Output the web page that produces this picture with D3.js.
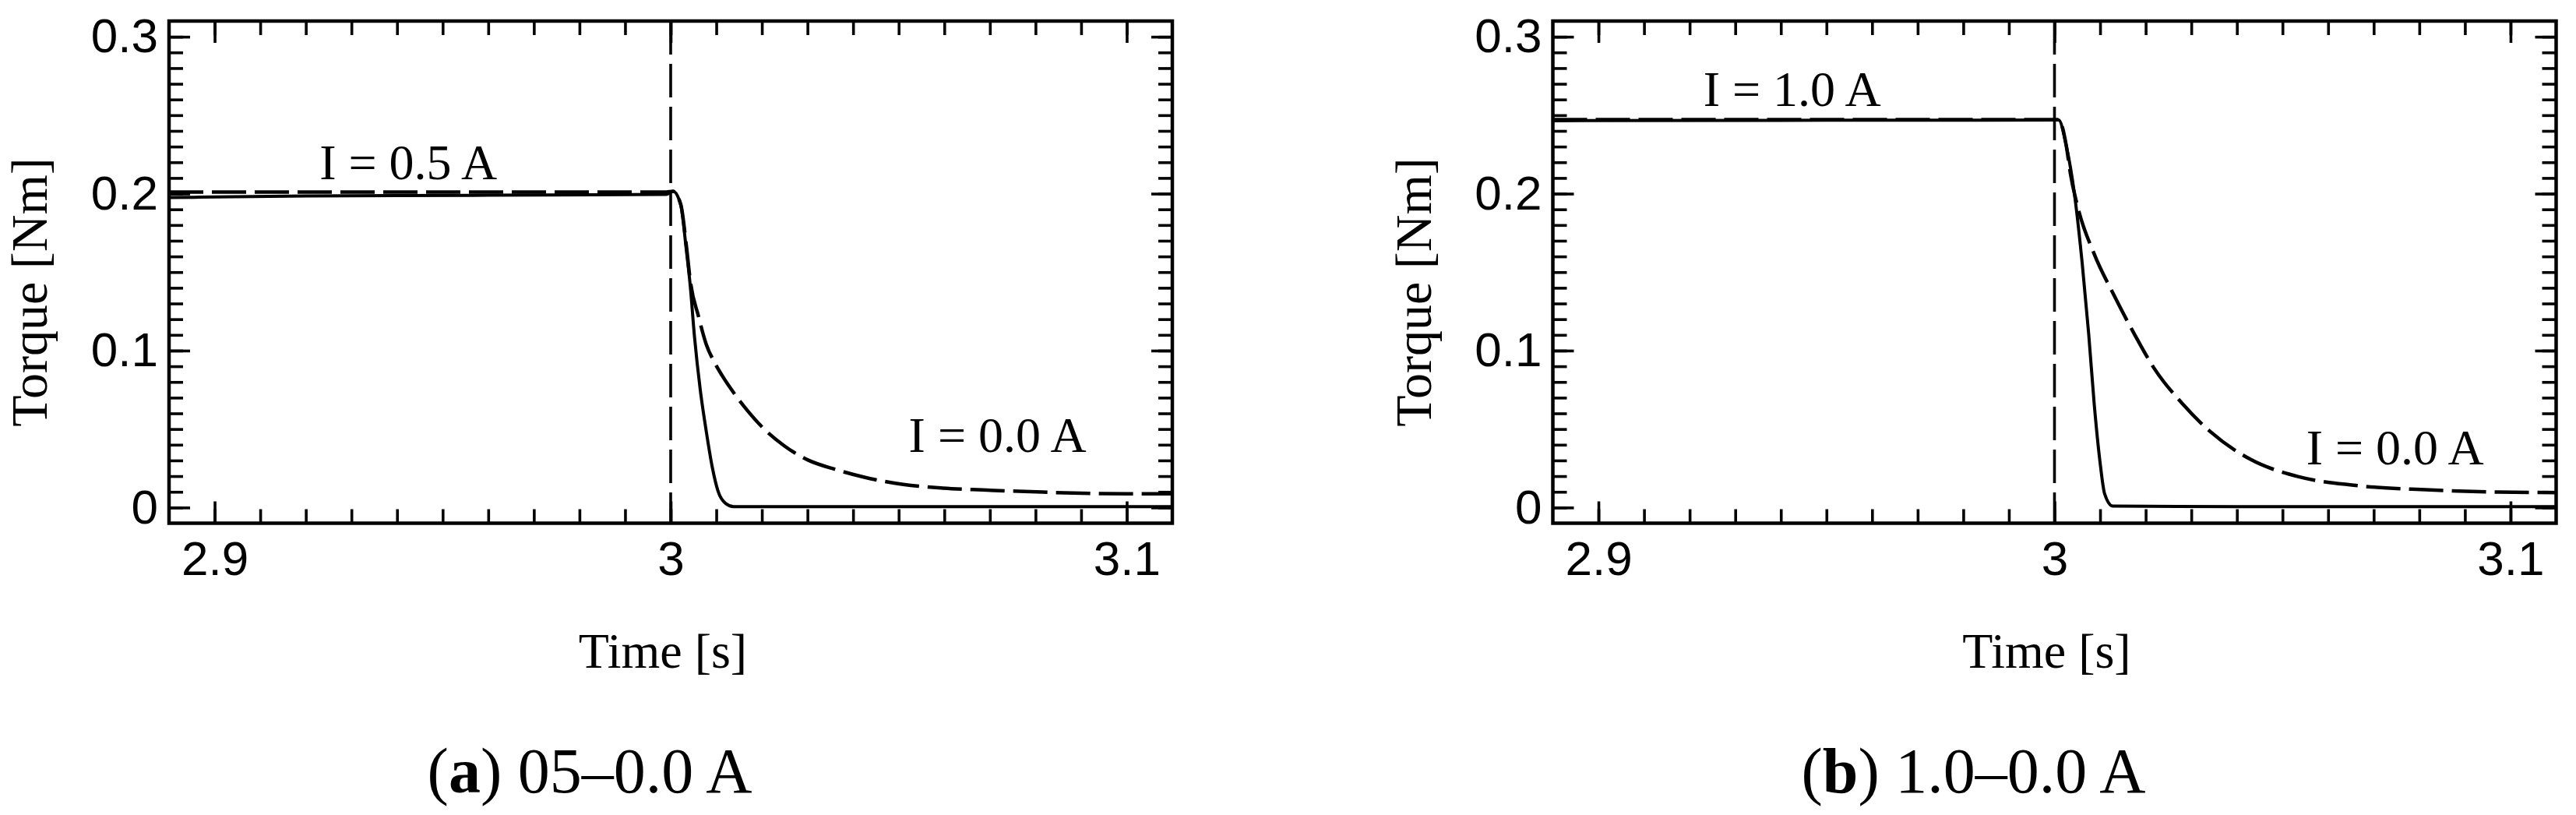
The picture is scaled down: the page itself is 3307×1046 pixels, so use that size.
<!DOCTYPE html>
<html>
<head>
<meta charset="utf-8">
<script src="https://cdn.jsdelivr.net/npm/d3@7"></script>
<style>
body { margin: 0; background: #fff; }
svg { display: block; }
</style>
</head>
<body>
<svg id="chart" width="3307" height="1046"></svg>
<script>
// (a) 0.5 A -> 0.0 A, solid and dashed torque traces
var timeA_solid   = [2.89, 2.92, 2.96, 2.999, 3.0005, 3.0022, 3.0034, 3.0043, 3.0052, 3.0065, 3.0078, 3.0091, 3.0104, 3.0121, 3.0138, 3.04, 3.08, 3.11];
var torqueA_solid = [0.1975, 0.1985, 0.199, 0.1995, 0.2015, 0.193, 0.165, 0.141, 0.1095, 0.0747, 0.0486, 0.026, 0.0103, 0.0025, 0.0006, 0.0006, 0.0006, 0.0006];
var timeA_dashed   = [2.89, 2.95, 2.999, 3.0005, 3.0022, 3.0035, 3.0043, 3.0061, 3.0078, 3.0096, 3.0113, 3.0139, 3.017, 3.0205, 3.0248, 3.03, 3.0361, 3.0423, 3.051, 3.0597, 3.0684, 3.0815, 3.0945, 3.11];
var torqueA_dashed = [0.201, 0.201, 0.201, 0.2015, 0.1932, 0.1653, 0.1444, 0.1218, 0.104, 0.0925, 0.084, 0.0728, 0.0612, 0.05, 0.0395, 0.0304, 0.0243, 0.0194, 0.0147, 0.0124, 0.0112, 0.0098, 0.0089, 0.0087];

// (b) 1.0 A -> 0.0 A
var timeB_solid   = [2.89, 2.95, 3.0009, 3.0026, 3.0044, 3.0061, 3.0075, 3.0087, 3.01, 3.011, 3.0128, 3.04, 3.08, 3.11];
var torqueB_solid = [0.2465, 0.2468, 0.2469, 0.2303, 0.1993, 0.1549, 0.1106, 0.0663, 0.0286, 0.0087, 0.0009, 0.0005, 0.0005, 0.0005];
var timeB_dashed   = [2.89, 2.95, 3.0009, 3.0026, 3.0035, 3.0052, 3.0087, 3.0131, 3.0175, 3.0219, 3.028, 3.0341, 3.0429, 3.0534, 3.0656, 3.0814, 3.0972, 3.11];
var torqueB_dashed = [0.2472, 0.2472, 0.2472, 0.2303, 0.2126, 0.1904, 0.1616, 0.135, 0.1106, 0.0885, 0.0663, 0.0485, 0.0308, 0.0197, 0.0142, 0.0113, 0.0098, 0.0095];

var switchTime = 3.0;
var xTickLabels = [2.9, 3, 3.1];
var yTickLabels = [0, 0.1, 0.2, 0.3];

var labelsA = [{text: "I = 0.5 A", t: 2.923, v: 0.2092}, {text: "I = 0.0 A", t: 3.0522, v: 0.0354}];
var labelsB = [{text: "I = 1.0 A", t: 2.923, v: 0.2559}, {text: "I = 0.0 A", t: 3.0552, v: 0.0275}];

var captionLetters = ["a", "b"];
var captionTexts = [" 05\u20130.0 A", " 1.0\u20130.0 A"];

function zip(ts, vs) {
    return ts.map(function(t, i) { return [t, vs[i]]; });
}

var panels = [
    {left: 217, solid: zip(timeA_solid, torqueA_solid), dashed: zip(timeA_dashed, torqueA_dashed), labels: labelsA, letter: captionLetters[0], caption: captionTexts[0]},
    {left: 1993.5, solid: zip(timeB_solid, torqueB_solid), dashed: zip(timeB_dashed, torqueB_dashed), labels: labelsB, letter: captionLetters[1], caption: captionTexts[1]}
];

var svg = d3.select("#chart");
var plotW = 1288, plotH = 644.5, plotTop = 27;

var xMinor = d3.range(0, 21).map(function(i) { return 2.9 + i / 100; }),
    yMinor = d3.range(0, 31).map(function(i) { return i / 100; });

function styleAxis(sel) {
    sel.select(".domain").remove();
    sel.selectAll(".tick line").attr("stroke", "#000").attr("stroke-width", 3.6);
    sel.selectAll(".tick text")
        .attr("fill", "#000")
        .style("font-family", "'Liberation Sans', Arial, sans-serif")
        .style("font-size", "62px");
}

panels.forEach(function(p) {
    var g = svg.append("g").attr("transform", "translate(" + p.left + "," + plotTop + ")");

    var x = d3.scaleLinear().domain([2.89, 3.11]).range([0, plotW]),
        y = d3.scaleLinear().domain([-0.01, 0.31]).range([plotH, 0]);

    var line = d3.line()
        .x(function(d) { return x(d[0]); })
        .y(function(d) { return y(d[1]); })
        .curve(d3.curveMonotoneX);

    // minor ticks on all four sides
    g.append("g").attr("transform", "translate(0," + plotH + ")")
        .call(d3.axisBottom(x).tickValues(xMinor).tickSize(-18).tickFormat("")).call(styleAxis);
    g.append("g")
        .call(d3.axisTop(x).tickValues(xMinor).tickSize(-18).tickFormat("")).call(styleAxis);
    g.append("g")
        .call(d3.axisLeft(y).tickValues(yMinor).tickSize(-18).tickFormat("")).call(styleAxis);
    g.append("g").attr("transform", "translate(" + plotW + ",0)")
        .call(d3.axisRight(y).tickValues(yMinor).tickSize(-18).tickFormat("")).call(styleAxis);

    // major ticks, labels only bottom / left
    g.append("g").attr("transform", "translate(0," + plotH + ")")
        .call(d3.axisBottom(x).tickValues(xTickLabels).tickSize(-28).tickPadding(22)
            .tickFormat(function(d) { return String(d); })).call(styleAxis);
    g.append("g")
        .call(d3.axisTop(x).tickValues(xTickLabels).tickSize(-28).tickFormat("")).call(styleAxis);
    g.append("g")
        .call(d3.axisLeft(y).tickValues(yTickLabels).tickSize(-27).tickPadding(14)
            .tickFormat(function(d) { return String(d); })).call(styleAxis);
    g.append("g").attr("transform", "translate(" + plotW + ",0)")
        .call(d3.axisRight(y).tickValues(yTickLabels).tickSize(-27).tickFormat("")).call(styleAxis);

    // switching instant
    g.append("line")
        .attr("x1", x(switchTime)).attr("x2", x(switchTime))
        .attr("y1", y(0.31)).attr("y2", y(-0.01))
        .attr("stroke", "#000").attr("stroke-width", 3.6)
        .attr("stroke-dasharray", "43,12");

    g.append("path").datum(p.dashed)
        .attr("d", line)
        .attr("fill", "none").attr("stroke", "#000").attr("stroke-width", 4.5)
        .attr("stroke-dasharray", "44,11");

    g.append("path").datum(p.solid)
        .attr("d", line)
        .attr("fill", "none").attr("stroke", "#000").attr("stroke-width", 4);

    g.append("rect")
        .attr("width", plotW).attr("height", plotH)
        .attr("fill", "none").attr("stroke", "#000").attr("stroke-width", 4.5);

    g.selectAll(".curr").data(p.labels).enter().append("text")
        .attr("class", "curr")
        .attr("x", function(d) { return x(d.t); })
        .attr("y", function(d) { return y(d.v); })
        .style("font-family", "'Liberation Serif', 'Times New Roman', serif")
        .style("font-size", "64px")
        .text(function(d) { return d.text; });

    // axis titles
    g.append("text")
        .attr("transform", "translate(-157,348) rotate(-90)")
        .attr("text-anchor", "middle")
        .style("font-family", "'Liberation Serif', 'Times New Roman', serif")
        .style("font-size", "66px")
        .text("Torque [Nm]");

    g.append("text")
        .attr("x", plotW / 2 - 10).attr("y", 830)
        .attr("text-anchor", "middle")
        .style("font-family", "'Liberation Serif', 'Times New Roman', serif")
        .style("font-size", "64px")
        .text("Time [s]");

    var cap = g.append("text")
        .attr("x", 540).attr("y", 990)
        .attr("text-anchor", "middle")
        .style("font-family", "'Liberation Serif', 'Times New Roman', serif")
        .style("font-size", "82px");
    cap.append("tspan").text("(");
    cap.append("tspan").style("font-weight", "bold").text(p.letter);
    cap.append("tspan").text(")" + p.caption);
});
</script>
</body>
</html>
